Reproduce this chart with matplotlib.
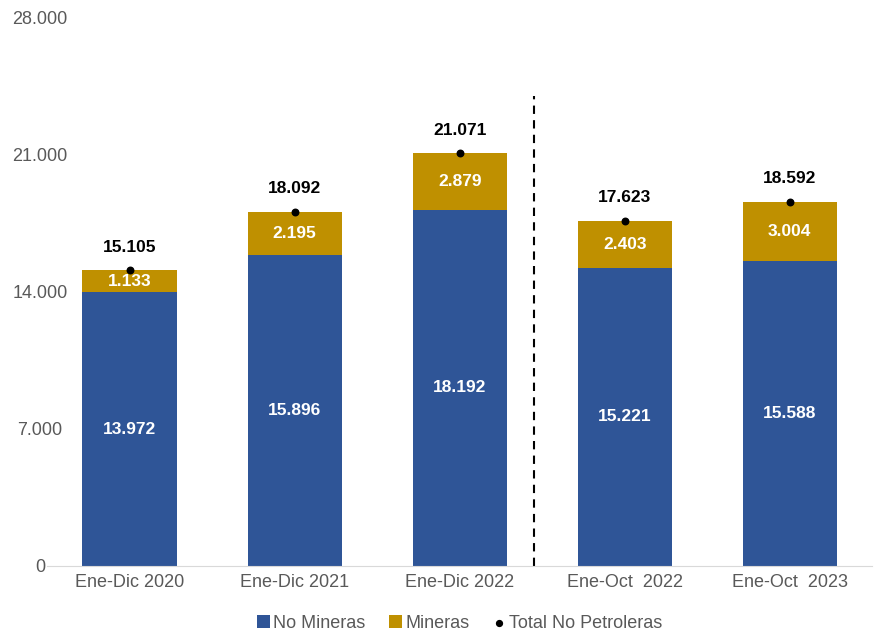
import numpy as np
import matplotlib.pyplot as plt

plt.rcParams['font.family'] = ['Liberation Sans', 'DejaVu Sans']

categories = ['Ene-Dic 2020', 'Ene-Dic 2021', 'Ene-Dic 2022', 'Ene-Oct  2022', 'Ene-Oct  2023']
no_mineras = [13972, 15896, 18192, 15221, 15588]
mineras = [1133, 2195, 2879, 2403, 3004]
total = [15105, 18092, 21071, 17623, 18592]
yticks = [0, 7000, 14000, 21000, 28000]

blue = '#2F5597'
gold = '#BF9000'

def fmt(v):
    return f'{v:,.0f}'.replace(',', '.')

fig = plt.figure(figsize=(8.78, 6.33), dpi=100)
ax = fig.add_axes([0.0535, 0.106, 0.94, 0.866])

x = np.arange(len(categories))
b1 = ax.bar(x, no_mineras, width=0.57, color=blue, label='No Mineras')
b2 = ax.bar(x, mineras, width=0.57, bottom=no_mineras, color=gold, label='Mineras')
sc = ax.scatter(x, total, s=22, color='black', marker='o', label='Total No Petroleras', zorder=3)

for i in range(len(x)):
    ax.text(x[i], no_mineras[i] / 2, fmt(no_mineras[i]), ha='center', va='center',
            color='white', fontsize=12.5, fontweight='bold')
    ax.text(x[i], no_mineras[i] + mineras[i] / 2, fmt(mineras[i]), ha='center', va='center',
            color='white', fontsize=12.5, fontweight='bold')
    ax.annotate(fmt(total[i]), (x[i], total[i]), xytext=(0, 16.5), textcoords='offset points',
                ha='center', va='center', fontsize=12.5, fontweight='bold', color='black')

ax.axvline(2.45, ymin=0, ymax=24000 / 28000, color='black', linestyle='--', linewidth=1.5, dashes=(4, 3))

ax.set_xlim(-0.5, 4.5)
ax.set_ylim(0, 28000)
ax.set_xticks(x)
ax.set_xticklabels(categories)
ax.set_yticks(yticks)
ax.set_yticklabels([fmt(v) for v in yticks], ha='center')
ax.tick_params(axis='x', length=0, labelsize=13, colors='#595959', pad=6)
ax.tick_params(axis='y', length=0, labelsize=13, colors='#595959', pad=5)
for s in ['top', 'right', 'left']:
    ax.spines[s].set_visible(False)
ax.spines['bottom'].set_color('#D9D9D9')

ax.legend([b1, b2, sc], ['No Mineras', 'Mineras', 'Total No Petroleras'],
          loc='upper center', bbox_to_anchor=(0.5, -0.06), ncol=3, frameon=False,
          fontsize=13, labelcolor='#595959', handlelength=0.7, handletextpad=0.2,
          columnspacing=1.3, markerscale=0.9)

fig.savefig('out.png', dpi=100)
